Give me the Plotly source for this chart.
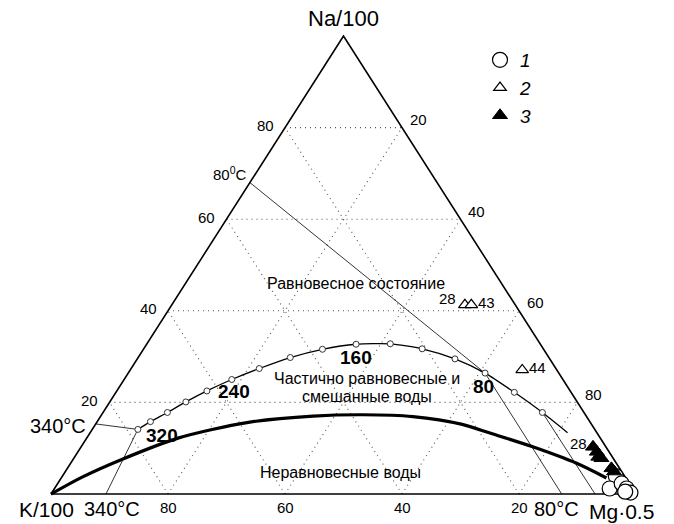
import plotly.graph_objects as go

# ---------------- data (ternary percentages: Na/100, K/100, Mg^0.5) ----------------
# full-equilibrium curve (temperature in deg C)
eq_temp = [340, 320, 300, 280, 260, 240, 220, 200, 180, 160, 140, 120, 100, 80, 60, 40]
eq_na = [14.1, 15.8, 17.8, 20.1, 22.5, 25.0, 27.4, 29.8, 31.6, 32.7, 32.8, 31.7, 29.5, 26.4, 22.2, 17.8]
eq_mg = [7.8, 9.1, 11.0, 13.0, 15.4, 18.4, 21.9, 26.0, 30.6, 35.8, 41.6, 47.6, 54.3, 61.0, 68.1, 75.1]
eq_tail_na = [13.4]
eq_tail_mg = [81.6]

# immature-water boundary (thick curve)
imm_na = [0.0, 3.8, 7.6, 12.2, 15.6, 17.0, 17.3, 16.9, 15.2, 13.3, 10.3, 6.7, 3.5]
imm_mg = [0.0, 3.6, 8.4, 15.6, 25.7, 36.3, 44.7, 53.4, 62.7, 68.4, 77.2, 86.5, 93.2]

# isotherm segments: start point on an edge -> equilibrium point of that temperature
iso_start_na = [68.0, 15.3, 0.0, 0.0, 0.0]
iso_start_mg = [0.0, 0.0, 9.4, 87.3, 93.0]
iso_temp = [80, 340, 340, 80, 40]

# samples
s1_na = [3.9, 1.2, 2.3, 1.2, 0.3, 0.5]
s1_mg = [94.6, 94.9, 96.4, 97.8, 98.9, 97.9]
s2_na = [41.3, 41.3, 27.1]
s2_mg = [50.1, 51.2, 67.0]
s2_lab = ["28", "43", "44"]
s3_na = [10.3, 9.2, 8.1, 7.8, 5.6, 4.9]
s3_mg = [87.5, 88.7, 89.5, 90.2, 93.0, 93.8]
s3_lab = ["28", "", "", "", "", ""]

grid_vals = [20, 40, 60, 80]
eq_labels = [320, 240, 160, 80]


def tx(na, mg):
    return [(m + n / 2.0) / 100.0 for n, m in zip(na, mg)]


def ty(na, mg):
    return [n / 100.0 for n in na]


FONT = "Liberation Sans, Arial"
fig = go.Figure()

# grid (dotted)
for v in grid_vals:
    segs = [([v, v], [0, 100 - v]),            # Na = v
            ([0, 100 - v], [100 - v, 0]),      # K = v
            ([0, 100 - v], [v, v])]            # Mg = v
    for na, mg in segs:
        fig.add_trace(go.Scatter(x=tx(na, mg), y=ty(na, mg), mode="lines",
                                 line=dict(color="#555", width=1.1, dash="1px,4px"),
                                 showlegend=False, hoverinfo="skip"))

# triangle frame
fig.add_trace(go.Scatter(x=tx([0, 100, 0, 0], [0, 0, 100, 0]), y=ty([0, 100, 0, 0], [0, 0, 100, 0]),
                         mode="lines", line=dict(color="black", width=1.6),
                         showlegend=False, hoverinfo="skip"))

# isotherm lines
for sna, smg, t in zip(iso_start_na, iso_start_mg, iso_temp):
    i = eq_temp.index(t)
    na = [sna, eq_na[i]]
    mg = [smg, eq_mg[i]]
    fig.add_trace(go.Scatter(x=tx(na, mg), y=ty(na, mg), mode="lines",
                             line=dict(color="black", width=0.8),
                             showlegend=False, hoverinfo="skip"))

# immature boundary
fig.add_trace(go.Scatter(x=tx(imm_na, imm_mg), y=ty(imm_na, imm_mg), mode="lines",
                         line=dict(color="black", width=3.2, shape="spline", smoothing=0.8),
                         showlegend=False, hoverinfo="skip"))

# equilibrium curve
all_na = eq_na + eq_tail_na
all_mg = eq_mg + eq_tail_mg
fig.add_trace(go.Scatter(x=tx(all_na, all_mg), y=ty(all_na, all_mg), mode="lines",
                         line=dict(color="black", width=1.3, shape="spline", smoothing=0.6),
                         showlegend=False, hoverinfo="skip"))
fig.add_trace(go.Scatter(x=tx(eq_na, eq_mg), y=ty(eq_na, eq_mg), mode="markers",
                         marker=dict(symbol="circle", size=6, color="white",
                                     line=dict(color="#333", width=1)),
                         showlegend=False, hoverinfo="skip"))

# samples
fig.add_trace(go.Scatter(x=tx(s1_na, s1_mg), y=ty(s1_na, s1_mg), mode="markers", name="<i>1</i>",
                         marker=dict(symbol="circle", size=15, color="white",
                                     line=dict(color="black", width=1.2))))
fig.add_trace(go.Scatter(x=tx(s2_na, s2_mg), y=ty(s2_na, s2_mg), mode="markers", name="<i>2</i>",
                         marker=dict(symbol="triangle-up", size=11, color="white",
                                     line=dict(color="black", width=1.2))))
fig.add_trace(go.Scatter(x=tx(s3_na, s3_mg), y=ty(s3_na, s3_mg), mode="markers", name="<i>3</i>",
                         marker=dict(symbol="triangle-up", size=13, color="black",
                                     line=dict(color="black", width=1))))

ann = []


def A(text, x, y, size, xs=0, ys=0, xanchor="center", bold=False, ref="paper"):
    ann.append(dict(text=("<b>%s</b>" % text) if bold else text, x=x, y=y, xref=ref,
                    yref=("y" if ref == "x" else "paper"),
                    xshift=xs, yshift=ys, showarrow=False, xanchor=xanchor, yanchor="middle",
                    font=dict(family=FONT, size=size, color="black")))


def P(px, py):
    return px / 674.0, 1 - py / 524.0


# tick labels
for v in grid_vals:
    x, y = tx([v], [0])[0], ty([v], [0])[0]                     # left edge: Na
    A(str(v), x, y, 15, xs=-20, ys=2, ref="x")
    x, y = tx([100 - v], [v])[0], ty([100 - v], [v])[0]         # right edge: Mg
    A(str(v), x, y, 15, xs=16, ys=8, ref="x")
    x, y = tx([0], [100 - v])[0], 0                             # bottom: K
    A(str(v), x, y, 15, ys=-13, ref="x")

# sample labels
for i, lab in enumerate(s2_lab):
    x, y = tx([s2_na[i]], [s2_mg[i]])[0], ty([s2_na[i]], [s2_mg[i]])[0]
    if i == 0:
        A(lab, x, y, 15, xs=-17, ys=6, ref="x")
    else:
        A(lab, x, y, 15, xs=15, ys=2, ref="x")
x, y = tx([s3_na[0]], [s3_mg[0]])[0], ty([s3_na[0]], [s3_mg[0]])[0]
A(s3_lab[0], x, y, 15, xs=-15, ys=3, ref="x")

# equilibrium temperature labels
offs = {320: (12, -14), 240: (2, -12), 160: (0, -13), 80: (-2, -13)}
for t in eq_labels:
    i = eq_temp.index(t)
    x, y = tx([eq_na[i]], [eq_mg[i]])[0], ty([eq_na[i]], [eq_mg[i]])[0]
    A(str(t), x, y, 19, xs=offs[t][0], ys=offs[t][1], bold=True, ref="x")

# vertex and other labels
A("Na/100", *P(343, 19), 22)
A("K/100", *P(46, 509), 21)
A("340°C", *P(112, 509), 20)
A("80°C", *P(556, 509), 20)
A("Mg·0.5", *P(621, 511), 21)
A("340°C", *P(58, 426), 20)
A("80<sup>0</sup>C", *P(230, 173), 15)
A("Равновесное состояние", *P(356, 283), 16)
A("Частично равновесные и", *P(367, 378), 16)
A("смешанные воды", *P(367, 396), 16)
A("Неравновесные воды", *P(340, 472), 16)

fig.update_layout(
    width=674, height=524,
    margin=dict(l=0, r=0, t=0, b=0),
    paper_bgcolor="white", plot_bgcolor="white",
    xaxis=dict(range=[-51 / 585.0, 623 / 585.0], visible=False, fixedrange=True),
    yaxis=dict(range=[-30 / 458.0, 1 + 36 / 458.0], visible=False, fixedrange=True),
    annotations=ann,
    showlegend=True,
    legend=dict(x=480 / 674.0, y=1 - 41 / 524.0, xanchor="left", yanchor="top",
                font=dict(family=FONT, size=19, color="black"),
                bgcolor="rgba(0,0,0,0)", tracegroupgap=0, itemsizing="trace"),
)

fig.write_html("out.html", config={"displayModeBar": False},
               post_script="document.body.style.margin='0px';document.body.style.overflow='hidden';")
